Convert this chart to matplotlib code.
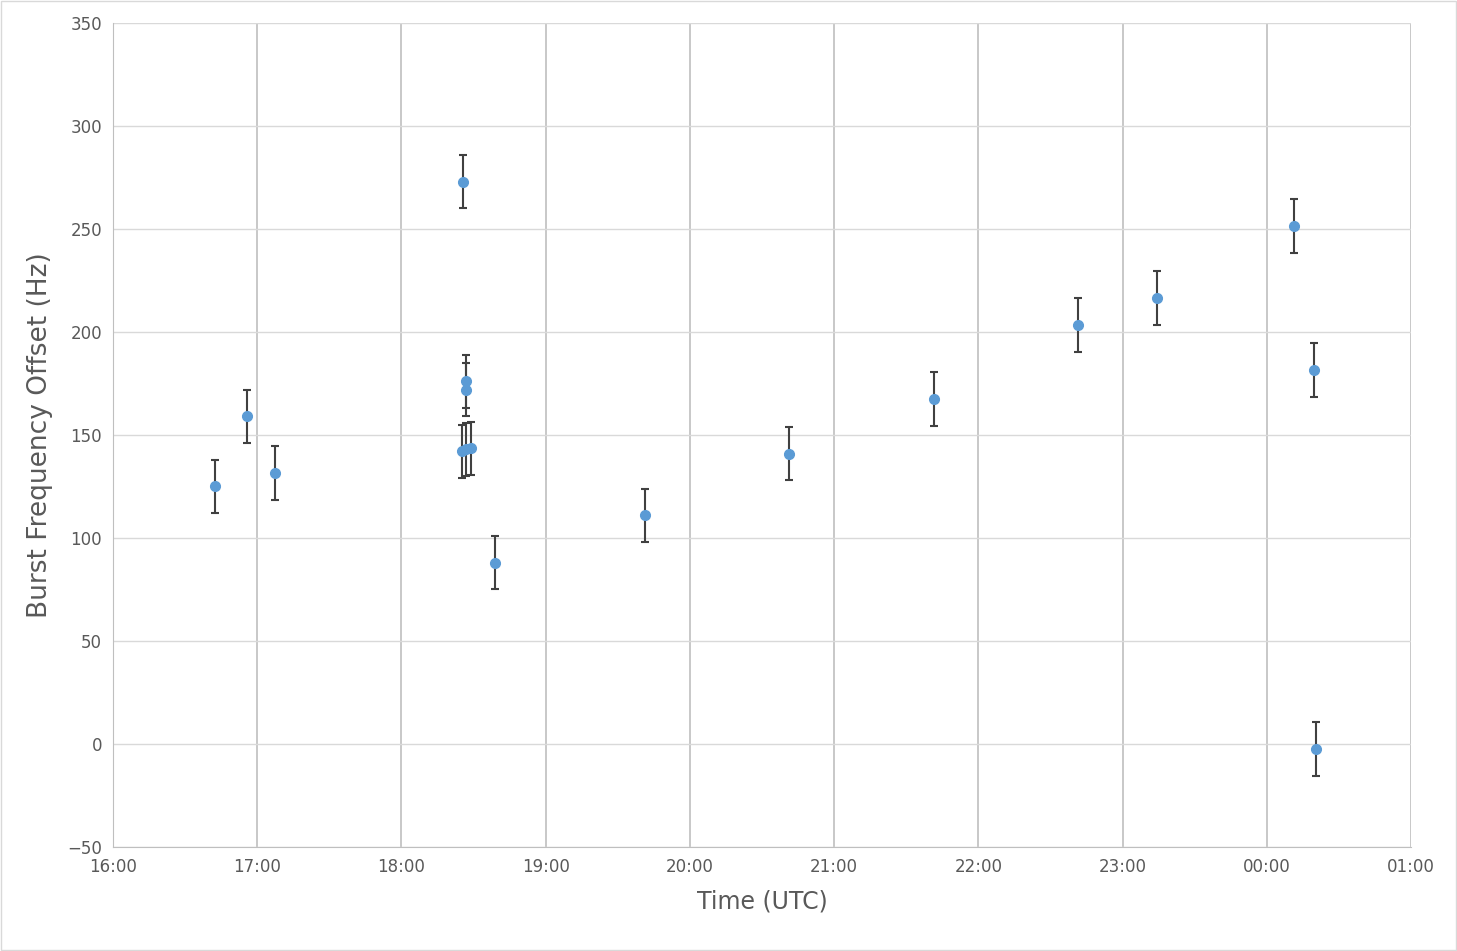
import matplotlib
matplotlib.use("Agg")
import matplotlib.pyplot as plt

times = [16.71, 16.93, 17.12, 18.43, 18.45, 18.45, 18.42, 18.45, 18.48, 18.65,
         19.69, 20.69, 21.69, 22.69, 23.24, 24.19, 24.33, 24.34]
offsets = [125, 159, 131.5, 273, 176, 172, 142, 143, 143.5, 88,
           111, 141, 167.5, 203.5, 216.5, 251.5, 181.5, -2.5]
errors = [13] * len(times)
xticks = list(range(16, 26))
xlabels = ["16:00", "17:00", "18:00", "19:00", "20:00", "21:00", "22:00", "23:00", "00:00", "01:00"]
yticks = list(range(-50, 351, 50))

fig = plt.figure(figsize=(14.57, 9.51), dpi=100)
fig.patches.append(plt.Rectangle((0.001, 0.001), 0.998, 0.998, transform=fig.transFigure,
                                 fill=False, edgecolor="#d9d9d9", linewidth=1))
ax = fig.add_axes([0.0776, 0.1094, 0.8908, 0.8664])
ax.errorbar(times, offsets, yerr=errors, fmt="o", color="#5b9bd5", markersize=7,
            ecolor="#404040", elinewidth=1.5, capsize=3, capthick=1.5, zorder=3)
ax.set_xlim(16, 25)
ax.set_ylim(-50, 350)
ax.set_xticks(xticks)
ax.set_xticklabels(xlabels)
ax.set_yticks(yticks)
ax.grid(True, axis="y", color="#d9d9d9", linewidth=1)
ax.grid(True, axis="x", color="#bfbfbf", linewidth=1.2)
ax.set_axisbelow(True)
for s in ax.spines.values():
    s.set_visible(False)
ax.spines["left"].set_visible(True)
ax.spines["left"].set_color("#bfbfbf")
ax.spines["bottom"].set_visible(True)
ax.spines["bottom"].set_color("#bfbfbf")
ax.tick_params(length=0, labelsize=12, colors="#595959", pad=8)
ax.set_xlabel("Time (UTC)", fontsize=17, color="#595959", labelpad=10)
ax.set_ylabel("Burst Frequency Offset (Hz)", fontsize=19, color="#595959", labelpad=10)
fig.savefig("out.png", dpi=100)
